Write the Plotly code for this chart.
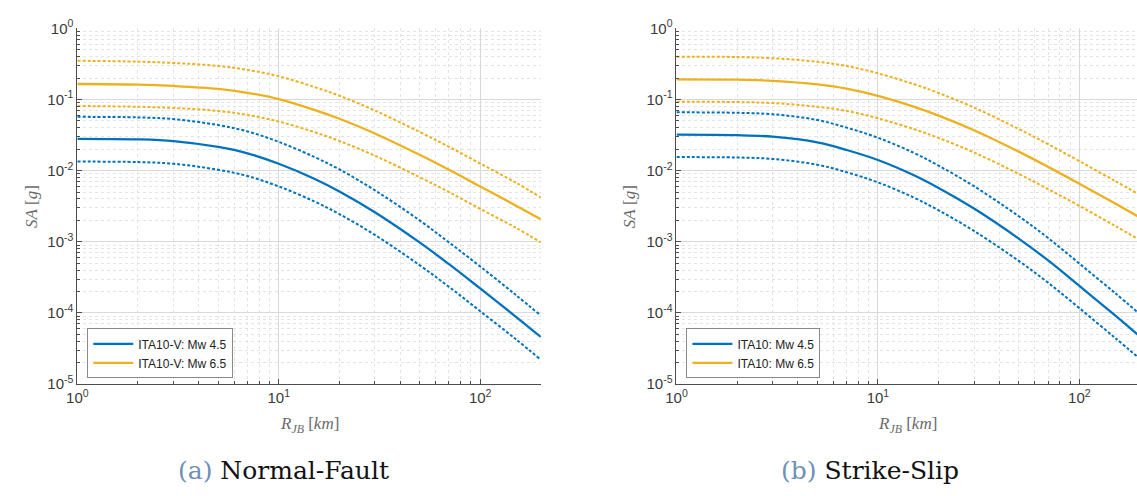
import math
import plotly.graph_objects as go

# ---------------- data ----------------
R_KM = [1, 2, 3, 5, 7, 10, 15, 20, 30, 50, 70, 100, 150, 200]

# (a) Normal-Fault, ITA10-V
NF_M45_MED = [0.028, 0.0275, 0.026, 0.0215, 0.0175, 0.0125, 0.0077, 0.0051, 0.0026, 0.00098, 0.000485, 0.000221, 0.000089, 0.000046]
NF_M45_UP = [0.057, 0.056, 0.053, 0.0437, 0.0355, 0.0254, 0.0156, 0.0104, 0.0053, 0.0020, 0.00098, 0.00045, 0.00018, 0.000092]
NF_M45_LO = [0.0134, 0.0132, 0.0125, 0.0103, 0.0084, 0.0060, 0.0037, 0.00245, 0.00125, 0.00047, 0.000233, 0.000106, 0.000043, 0.000022]
NF_M65_MED = [0.165, 0.162, 0.155, 0.141, 0.124, 0.101, 0.0714, 0.0536, 0.0333, 0.0167, 0.0103, 0.0060, 0.00324, 0.00207]
NF_M65_UP = [0.35, 0.34, 0.326, 0.296, 0.26, 0.212, 0.150, 0.113, 0.070, 0.035, 0.0216, 0.0126, 0.0068, 0.0042]
NF_M65_LO = [0.081, 0.079, 0.076, 0.069, 0.0605, 0.049, 0.0348, 0.0261, 0.0162, 0.0081, 0.0050, 0.0029, 0.00158, 0.00098]

# (b) Strike-Slip, ITA10
SS_M45_MED = [0.032, 0.0315, 0.030, 0.025, 0.0195, 0.0141, 0.00867, 0.00571, 0.00293, 0.00111, 0.000547, 0.00024, 0.000093, 0.0000465]
SS_M45_UP = [0.066, 0.065, 0.062, 0.0515, 0.0402, 0.029, 0.0179, 0.01176, 0.00604, 0.00229, 0.00113, 0.000494, 0.000192, 0.0000958]
SS_M45_LO = [0.0155, 0.0153, 0.0146, 0.0121, 0.0095, 0.00684, 0.00421, 0.00277, 0.00142, 0.00054, 0.000266, 0.000117, 0.000045, 0.0000226]
SS_M65_MED = [0.192, 0.19, 0.183, 0.163, 0.142, 0.112, 0.0793, 0.0594, 0.037, 0.0185, 0.0113, 0.00655, 0.00347, 0.00219]
SS_M65_UP = [0.40, 0.395, 0.38, 0.339, 0.295, 0.233, 0.165, 0.1235, 0.077, 0.0385, 0.0235, 0.0136, 0.0072, 0.00455]
SS_M65_LO = [0.093, 0.092, 0.089, 0.079, 0.069, 0.0544, 0.0385, 0.0288, 0.018, 0.009, 0.0055, 0.0032, 0.00168, 0.00106]

LEGEND_A = ["ITA10-V: Mw 4.5", "ITA10-V: Mw 6.5"]
LEGEND_B = ["ITA10: Mw 4.5", "ITA10: Mw 6.5"]
X_TICK_EXP = [0, 1, 2]
Y_TICK_EXP = [-5, -4, -3, -2, -1, 0]

# ---------------- style ----------------
W, H = 1137, 496
BLUE = "#0072BD"
YELLOW = "#EDB120"
AXIS_COL = "#4d4d4d"
TICK_FONT = dict(family="Liberation Sans, Arial, sans-serif", size=15, color="#3a3a3a")
TITLE_FONT = dict(family="Liberation Serif, DejaVu Serif, serif", size=17, color="#6a6a6a")


def fx(p):
    return p / W


def fy(p):
    return 1 - p / H


fig = go.Figure()

panels = [
    ("x", "y", "legend", LEGEND_A,
     [(NF_M45_MED, NF_M45_UP, NF_M45_LO, BLUE), (NF_M65_MED, NF_M65_UP, NF_M65_LO, YELLOW)]),
    ("x2", "y2", "legend2", LEGEND_B,
     [(SS_M45_MED, SS_M45_UP, SS_M45_LO, BLUE), (SS_M65_MED, SS_M65_UP, SS_M65_LO, YELLOW)]),
]

for xa, ya, leg, names, groups in panels:
    for (med, up, lo, col), name in zip(groups, names):
        for arr in (up, lo):
            fig.add_trace(go.Scatter(x=R_KM, y=arr, mode="lines", xaxis=xa, yaxis=ya,
                                     line=dict(color=col, width=2, dash="3px,2px", shape="spline"),
                                     showlegend=False, hoverinfo="skip"))
        fig.add_trace(go.Scatter(x=R_KM, y=med, mode="lines", xaxis=xa, yaxis=ya, name=name,
                                 legend=leg, line=dict(color=col, width=2.3, shape="spline")))

x_major = [10 ** e for e in X_TICK_EXP]
x_text = ["10<sup>%d</sup>" % e for e in X_TICK_EXP]
y_major = [10.0 ** e for e in Y_TICK_EXP]
y_text = ["10<sup>%d</sup>" % e for e in Y_TICK_EXP]
x_minor = [m * 10 ** e for e in X_TICK_EXP for m in range(2, 10)]
y_minor = [m * 10.0 ** e for e in Y_TICK_EXP[:-1] for m in range(2, 10)]


def axis_common(tv, tt, minor_vals, rng, domain, anchor):
    return dict(type="log", range=rng, domain=domain, anchor=anchor,
                tickmode="array", tickvals=tv, ticktext=tt,
                ticks="inside", ticklen=5, tickcolor=AXIS_COL, tickwidth=1,
                showline=True, linecolor=AXIS_COL, linewidth=1,
                showgrid=True, gridcolor="#d9d9d9", gridwidth=1,
                minor=dict(tickmode="array", tickvals=minor_vals, ticks="inside", ticklen=3,
                           tickcolor=AXIS_COL, showgrid=True, gridcolor="#e4e4e4",
                           griddash="dot", gridwidth=1),
                tickfont=TICK_FONT, zeroline=False, mirror=False)


yd = [fy(388), fy(18)]
xr = math.log10(200)
right_max = (1137 - 672) / ((535 - 67) / xr)

LEG_FONT = dict(family="Liberation Sans, Arial, sans-serif", size=12, color="#222222")
fig.update_layout(
    width=W, height=H, margin=dict(l=0, r=0, t=0, b=0),
    paper_bgcolor="white", plot_bgcolor="white", showlegend=True,
    xaxis=axis_common(x_major, x_text, x_minor, [0, xr], [fx(67), fx(535)], "y"),
    yaxis=axis_common(y_major, y_text, y_minor, [-5, 0], yd, "x"),
    xaxis2=axis_common(x_major, x_text, x_minor, [0, right_max], [fx(672), 1.0], "y2"),
    yaxis2=axis_common(y_major, y_text, y_minor, [-5, 0], yd, "x2"),
    legend=dict(x=fx(77), y=fy(382), xanchor="left", yanchor="bottom",
                bgcolor="white", bordercolor="#8a8a8a", borderwidth=1,
                font=LEG_FONT, tracegroupgap=0, itemwidth=40),
    legend2=dict(x=fx(682), y=fy(382), xanchor="left", yanchor="bottom",
                 bgcolor="white", bordercolor="#8a8a8a", borderwidth=1,
                 font=LEG_FONT, tracegroupgap=0, itemwidth=40),
)

annots = [
    dict(x=fx(301), y=fy(430), text="<i>R</i><sub><i>JB</i></sub> [<i>km</i>]", textangle=0),
    dict(x=fx(905), y=fy(430), text="<i>R</i><sub><i>JB</i></sub> [<i>km</i>]", textangle=0),
    dict(x=fx(20), y=fy(203), text="<i>SA</i> [<i>g</i>]", textangle=-90),
    dict(x=fx(624), y=fy(203), text="<i>SA</i> [<i>g</i>]", textangle=-90),
]
for a in annots:
    fig.add_annotation(xref="paper", yref="paper", showarrow=False, xanchor="center",
                       yanchor="middle", font=TITLE_FONT, **a)

CAP_FONT = dict(family="DejaVu Serif, Liberation Serif, serif", size=25, color="#111111")
for cx, lab, txt in [(275, "(a)", "Normal-Fault"), (867, "(b)", "Strike-Slip")]:
    fig.add_annotation(xref="paper", yref="paper", x=fx(cx), y=fy(478), showarrow=False,
                       xanchor="center", yanchor="middle", font=CAP_FONT,
                       text='<span style="color:#6f90b6">%s</span> %s' % (lab, txt))

fig.write_html("out.html")
